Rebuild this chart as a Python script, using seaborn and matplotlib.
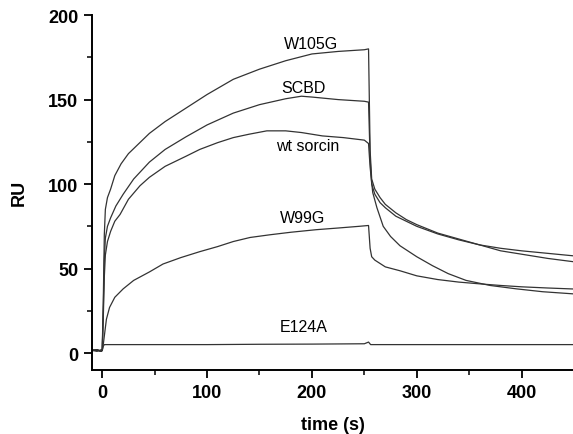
import seaborn as sns
import matplotlib.pyplot as plt
import pandas as pd

# SPR sensorgram values (time in s, response in RU)
t_w105g = [-9, -5, -1, 0, 1, 2, 3, 5, 8, 12, 18, 25, 35, 45, 60, 80, 100, 125, 150, 175, 200, 225, 250, 254,
           255.5, 257, 260, 265, 270, 280, 290, 300, 320, 340, 360, 380, 400, 425, 450]
ru_w105g = [1.5, 2, 1, 2, 30, 70, 85, 92, 97, 105, 112, 118, 124, 130, 137, 145, 153, 162, 168, 173, 177, 178.5, 179.5, 180,
            120, 103, 97, 92, 88, 83, 79, 76, 71, 67.5, 64, 62, 60.5, 59, 57.5]

t_scbd = [-9, -5, -1, 0, 1, 2, 3, 5, 8, 13, 20, 30, 45, 60, 80, 100, 125, 150, 175, 190, 200, 225, 250, 254,
          255.5, 257, 260, 265, 270, 280, 290, 300, 320, 340, 360, 380, 400, 425, 450]
ru_scbd = [1.5, 1, 2, 1.5, 25, 55, 68, 75, 80, 87, 94, 103, 113, 120.5, 128, 135, 142, 147, 150.5, 152, 151.5, 150, 149, 148.5,
           115, 100, 94, 89, 86, 81, 78, 75, 70.5, 67, 64, 60.5, 58.5, 56, 54]

t_wt = [-9, -5, -1, 0, 1, 2, 3, 5, 8, 12, 17, 25, 36, 45, 60, 80, 93, 110, 125, 140, 157, 175, 190, 210, 230, 250, 254,
        255.5, 258, 262, 268, 275, 284, 300, 315, 330, 347, 370, 395, 420, 450]
ru_wt = [2, 1.5, 1, 2, 20, 45, 58, 66, 72, 78, 82, 91, 99, 104, 110.5, 116.5, 120.5, 124.5, 127.5, 129.5, 131.5, 131.5, 130.5,
         128.5, 127.5, 126, 124,
         110, 95, 86, 75, 69, 63.5, 57, 51.7, 47, 43, 40, 38, 36.3, 35]

t_w99g = [-9, -5, -1, 0, 1, 2, 4, 7, 12, 20, 30, 45, 58, 75, 93, 110, 125, 141, 160, 180, 204, 225, 245, 254,
          255.5, 257, 260, 270, 284, 300, 320, 340, 363, 380, 400, 425, 450]
ru_w99g = [1.5, 2, 1, 1.5, 5, 10, 20, 27, 33, 38, 43, 48, 52.7, 56.5, 60, 63, 66, 68.4, 70, 71.5, 73, 74, 75, 75.5,
           62, 57, 55, 51, 48.7, 45.7, 43.5, 42, 40.8, 40, 39.2, 38.5, 37.9]

t_e124a = [-9, -5, -1, 0, 1, 2, 50, 100, 150, 200, 250, 254, 256, 300, 350, 400, 450]
ru_e124a = [1.5, 2, 1, 1.5, 4, 5, 5, 5, 5.2, 5.3, 5.5, 6.5, 5, 5, 5, 5, 5]

labels = ["W105G", "SCBD", "wt sorcin", "W99G", "E124A"]
label_pos = [(199, 183), (192, 157), (196, 123), (191, 80), (192, 16)]

frames = []
for name, t, ru in zip(labels,
                       [t_w105g, t_scbd, t_wt, t_w99g, t_e124a],
                       [ru_w105g, ru_scbd, ru_wt, ru_w99g, ru_e124a]):
    frames.append(pd.DataFrame({"time": t, "RU": ru, "sample": name}))
df = pd.concat(frames, ignore_index=True)

sns.set_style("ticks", {"axes.edgecolor": "black", "xtick.color": "black", "ytick.color": "black",
                        "text.color": "black", "axes.labelcolor": "black"})
plt.rcParams["font.family"] = ["Liberation Sans", "DejaVu Sans"]

fig = plt.figure(figsize=(5.73, 4.35), dpi=100)
ax = fig.add_axes([0.161, 0.148, 0.839, 0.815])

sns.lineplot(data=df, x="time", y="RU", units="sample", estimator=None,
             color="#333333", linewidth=0.9, ax=ax)

for name, (x, y) in zip(labels, label_pos):
    ax.text(x, y, name, ha="center", va="center", fontsize=11.5, color="black")

ax.set_xlim(-9.5, 449)
ax.set_ylim(-9.8, 200)
ax.set_xticks([0, 100, 200, 300, 400])
ax.set_xticks([50, 150, 250, 350], minor=True)
ax.set_yticks([0, 50, 100, 150, 200])
ax.set_yticks([25, 75, 125, 175], minor=True)
ax.tick_params(which="major", length=6, width=1.3, labelsize=13, direction="out", pad=4)
ax.tick_params(which="minor", length=3.5, width=1.1, direction="out")
for lab in ax.get_xticklabels() + ax.get_yticklabels():
    lab.set_fontweight("bold")
ax.set_xlabel("time (s)", fontsize=13, fontweight="bold", labelpad=11)
ax.set_ylabel("RU", fontsize=13, fontweight="bold", labelpad=15)
for s in ["left", "bottom"]:
    ax.spines[s].set_linewidth(1.4)
sns.despine(ax=ax)

fig.savefig("out.png", dpi=100)
